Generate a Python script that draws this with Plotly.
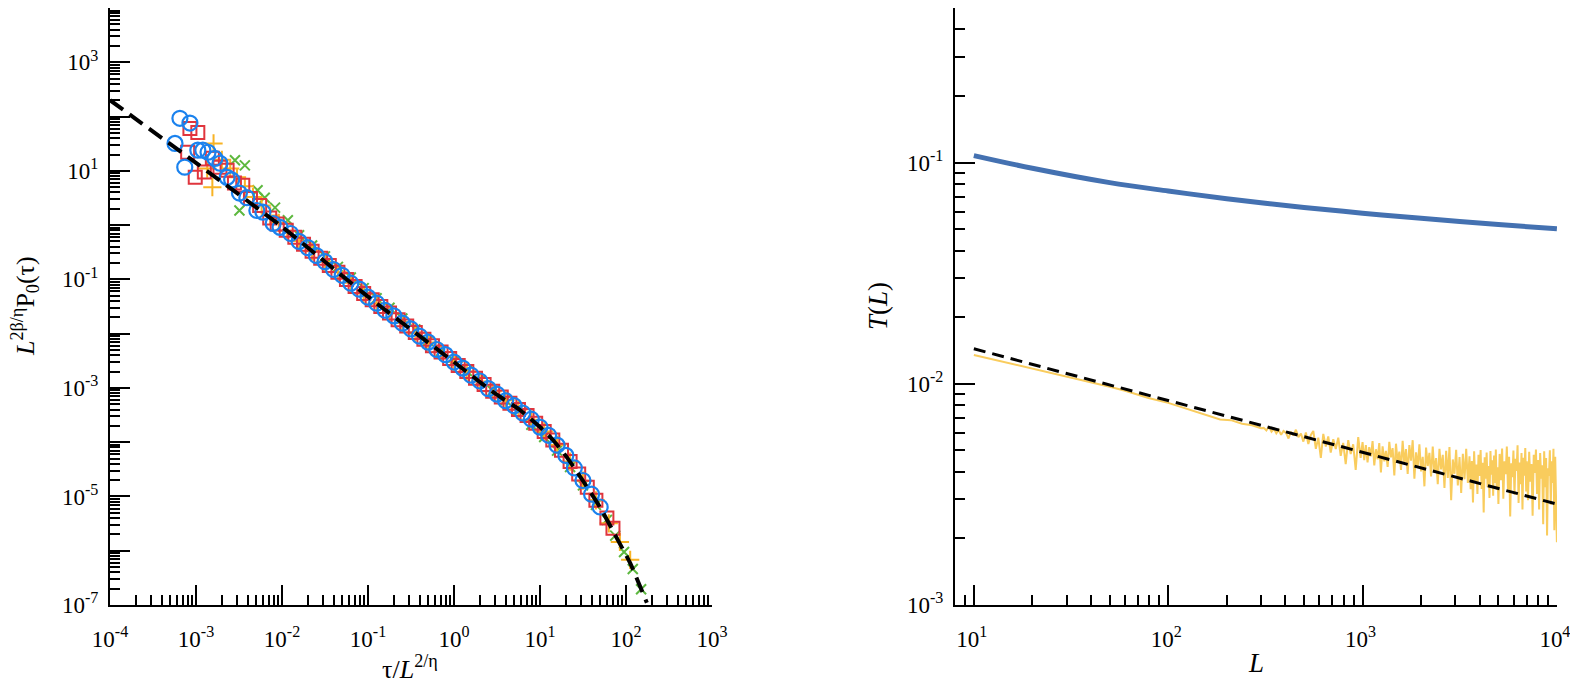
import plotly.graph_objects as go

FONT = "Liberation Serif, Times New Roman, serif"

# ---------------- left panel: scaling collapse ----------------
blue_tau = [5.7e-4, 6.5e-4, 7.4e-4, 8.5e-4, 1.05e-3, 1.2e-3, 1.38e-3, 1.66e-3, 1.9e-3, 2.3e-3,
            2.6e-3, 3.2e-3, 3.9e-3, 5.1e-3, 6.0e-3, 7.9e-3, 9.5e-3,
            0.0126, 0.0158, 0.020, 0.0251, 0.0316, 0.0398, 0.0501, 0.0631, 0.0794, 0.100,
            0.126, 0.158, 0.200, 0.251, 0.316, 0.398, 0.501, 0.631, 0.794, 1.00,
            1.26, 1.58, 2.00, 2.51, 3.16, 3.98, 5.01, 6.31, 7.94, 10.0,
            12.6, 15.8, 20.0, 25.1, 31.6, 39.8, 50.1]
blue_P = [32, 93, 11.7, 76, 24, 24, 22, 17, 13.8, 7.6,
          6.8, 3.9, 3.2, 1.86, 1.74, 1.07, 0.91,
          0.70, 0.50, 0.385, 0.275, 0.212, 0.152, 0.119, 0.085, 0.066, 0.047,
          0.0365, 0.027, 0.0213, 0.0156, 0.0122, 0.0090, 0.0070, 0.0051, 0.0041, 0.0030,
          0.00232, 0.00172, 0.00134, 0.00097, 7.7e-4, 5.8e-4, 4.7e-4, 3.45e-4, 2.65e-4, 1.9e-4,
          1.34e-4, 8.8e-5, 5.7e-5, 3.35e-5, 1.97e-5, 1.10e-5, 6.4e-6]

red_tau = [8.0e-4, 8.5e-4, 9.8e-4, 1.05e-3, 1.25e-3, 1.55e-3, 1.9e-3, 2.3e-3, 2.8e-3, 3.5e-3,
           4.3e-3, 5.5e-3, 7.2e-3, 8.8e-3,
           0.0112, 0.0141, 0.0178, 0.0224, 0.0282, 0.0355, 0.0447, 0.0562, 0.0708, 0.0891,
           0.112, 0.141, 0.178, 0.224, 0.282, 0.355, 0.447, 0.562, 0.708, 0.891,
           1.12, 1.41, 1.78, 2.24, 2.82, 3.55, 4.47, 5.62, 7.08, 8.91,
           11.2, 14.1, 17.8, 22.4, 28.2, 35.5, 44.7, 60.0, 70.6]
red_P = [22, 60, 7.6, 51, 9.5, 17, 11.7, 10.2, 6.0, 5.4,
         3.1, 2.3, 1.35, 1.05,
         0.80, 0.60, 0.445, 0.33, 0.245, 0.18, 0.135, 0.10, 0.074, 0.055,
         0.042, 0.0316, 0.024, 0.018, 0.0138, 0.0105, 0.0079, 0.0060, 0.0046, 0.0035,
         0.0026, 0.0020, 0.00151, 0.00115, 8.7e-4, 6.8e-4, 5.2e-4, 4.0e-4, 3.1e-4, 2.24e-4,
         1.58e-4, 1.10e-4, 7.1e-5, 4.4e-5, 2.6e-5, 1.48e-5, 8.5e-6, 4.0e-6, 2.6e-6]

orange_tau = [1.35e-3, 1.55e-3, 1.6e-3, 2.0e-3, 2.5e-3, 3.0e-3, 3.7e-3, 4.6e-3, 5.8e-3, 7.3e-3, 9.2e-3,
              0.0115, 0.0158, 0.0224, 0.0316, 0.0447, 0.0631, 0.0891, 0.126, 0.178, 0.251,
              0.355, 0.501, 0.708, 1.0, 1.41, 2.0, 2.82, 3.98, 5.62, 7.94,
              11.2, 15.8, 22.4, 31.6, 44.7, 63.1, 85, 112]
orange_P = [11, 5.0, 32, 16, 11, 7.6, 5.2, 3.3, 2.3, 1.5, 1.1,
            0.79, 0.51, 0.33, 0.21, 0.135, 0.087, 0.055, 0.036, 0.024, 0.0158,
            0.0105, 0.0069, 0.0046, 0.0030, 0.0020, 0.00132, 8.7e-4, 5.9e-4, 4.0e-4, 2.6e-4,
            1.58e-4, 8.9e-5, 4.4e-5, 1.95e-5, 8.5e-6, 3.2e-6, 1.45e-6, 6.8e-7]

green_tau = [2.84e-3, 3.2e-3, 3.7e-3, 5.2e-3, 6.3e-3, 8.3e-3, 0.0117, 0.0158, 0.0224, 0.0316,
             0.0447, 0.0631, 0.0891, 0.126, 0.178, 0.251, 0.355, 0.501, 0.708, 1.0,
             1.41, 2.0, 2.82, 3.98, 5.62, 7.94, 11.2, 15.8, 22.4, 31.6,
             44.7, 60, 75, 95, 120, 150]
green_P = [15.7, 1.86, 12.6, 4.4, 3.2, 2.1, 1.23, 0.65, 0.42, 0.265,
           0.17, 0.108, 0.069, 0.045, 0.030, 0.0190, 0.0120, 0.0074, 0.0048, 0.0031,
           0.00205, 0.00134, 8.9e-4, 6.0e-4, 3.9e-4, 2.1e-4, 1.25e-4, 7.0e-5, 3.5e-5, 1.6e-5,
           7.0e-6, 3.7e-6, 1.9e-6, 9.5e-7, 4.6e-7, 1.95e-7]

fit_tau = [1e-4, 1e-3, 1e-2, 1e-1, 1, 3, 6, 10, 14, 20, 30, 50, 80, 112, 175]
fit_P = [200, 14, 0.93, 0.048, 3.0e-3, 7.9e-4, 3.8e-4, 1.9e-4, 1.12e-4, 5.6e-5,
         2.2e-5, 6.3e-6, 1.6e-6, 5.9e-7, 1.1e-7]

# ---------------- right panel: T(L) ----------------
tl_L = [10, 20, 50, 100, 200, 500, 1000, 2000, 5000, 10000]
tl_T = [0.1076, 0.0943, 0.0812, 0.0744, 0.0687, 0.0627, 0.0591, 0.0560, 0.0525, 0.0502]

pow_L = [10, 10000]
pow_T = [0.0144, 0.00286]

yellow_L = [10, 12, 15, 20, 25, 30, 40, 50, 60, 70, 80, 100, 120, 140, 160, 185, 210, 240, 270, 300,
            310, 320, 330, 340, 350, 360, 370, 381, 392, 404, 416, 428, 441, 454, 468, 482, 496, 511, 526, 542,
            558, 575, 592, 610, 628, 647, 666, 686, 707, 728, 750, 772, 795, 819, 844, 869, 895, 922, 950, 978,
            1000, 1020, 1040, 1061, 1082, 1104, 1126, 1149, 1172, 1195, 1219, 1243, 1268, 1294, 1319, 1346,
            1373, 1400, 1428, 1457, 1486, 1516, 1546, 1577, 1608, 1641, 1673, 1707, 1741, 1776, 1811, 1848,
            1885, 1922, 1961, 2000, 2040, 2081, 2122, 2165, 2208, 2252, 2297, 2343, 2390, 2438, 2487, 2536,
            2587, 2639, 2692, 2745, 2800, 2856, 2913, 2972, 3031, 3092, 3154, 3217, 3281, 3347, 3414, 3482,
            3550, 3600, 3650, 3700, 3750, 3800, 3850, 3900, 3950, 4000, 4050, 4100, 4150, 4200, 4250, 4300,
            4350, 4400, 4450, 4500, 4550, 4600, 4650, 4700, 4750, 4800, 4850, 4900, 4950, 5000,
            5075, 5150, 5225, 5300, 5375, 5450, 5525, 5600, 5675, 5750, 5825, 5900, 5975, 6050, 6125, 6200,
            6275, 6350, 6425, 6500, 6575, 6650, 6725, 6800, 6875, 6950,
            7000, 7100, 7200, 7300, 7400, 7500, 7600, 7700, 7800, 7900, 8000, 8100, 8200, 8300, 8400, 8500,
            8600, 8700, 8800, 8900, 9000, 9100, 9200, 9300, 9400, 9500, 9600, 9700, 9800, 9900, 10000]
# values in units of 1e-3
yellow_T = [13.5, 13.0, 12.4, 11.7, 11.2, 10.8, 10.2, 9.7, 9.3, 8.9, 8.6, 8.2, 7.8, 7.5, 7.2, 6.9, 6.85, 6.6, 6.5, 6.3,
            6.32, 6.15, 6.41, 6.08, 6.26, 5.97, 6.19, 5.88, 6.12, 6.00, 5.66, 6.07, 5.85, 6.20, 5.74, 5.96, 5.48, 6.03, 5.34, 5.87,
            6.12, 5.08, 5.71, 4.62, 5.94, 5.21, 5.78, 4.89, 5.62, 5.07, 5.71, 4.72, 5.41, 4.33, 5.56, 4.81, 5.33, 4.08, 5.74, 4.63,
            5.45, 4.52, 5.28, 4.41, 5.17, 4.70, 5.51, 4.28, 5.06, 4.55, 5.39, 3.97, 5.22, 4.46, 4.98, 4.21,
            5.47, 4.65, 5.12, 3.85, 5.36, 4.40, 4.94, 4.08, 5.53, 4.32, 5.07, 3.91, 5.28, 4.49, 5.56, 3.72,
            4.90, 4.18, 5.33, 4.02, 4.68, 3.44, 5.15, 4.25, 4.87, 3.81, 5.21, 3.96, 4.62, 3.52, 5.08, 4.10,
            4.77, 3.38, 4.98, 3.75, 5.18, 2.98, 4.55, 3.92, 5.03, 3.47, 4.66, 3.21, 4.82, 3.70, 5.09, 3.56,
            4.70, 3.34, 4.48, 2.91, 4.95, 3.62, 4.31, 3.18, 4.78, 3.83, 5.02, 3.35, 4.40, 2.62, 4.66, 3.72,
            4.89, 3.41, 4.25, 3.05, 4.97, 3.88, 4.51, 3.12, 4.74, 3.56, 5.05, 3.31, 4.19, 2.86,
            4.82, 3.67, 5.10, 3.02, 4.46, 3.90, 5.21, 3.33, 4.68, 2.51, 4.37, 3.78, 4.99, 3.15, 4.58, 4.04,
            5.27, 2.89, 4.41, 3.52, 4.86, 2.70, 4.63, 3.84, 5.12, 3.26,
            4.47, 2.98, 4.93, 3.61, 4.34, 2.53, 4.78, 3.95, 5.05, 3.18, 4.52, 2.70, 4.87, 3.72, 4.28, 2.32,
            4.96, 3.41, 4.62, 2.06, 4.15, 3.83, 5.01, 2.84, 4.47, 3.56, 5.09, 2.18, 4.68, 3.25, 1.92]

fig = go.Figure()

fig.add_trace(go.Scatter(x=green_tau, y=green_P, mode="markers", xaxis="x", yaxis="y",
                         marker=dict(symbol="x-thin-open", size=10, color="#5db83f",
                                     line=dict(color="#5db83f", width=2))))
fig.add_trace(go.Scatter(x=orange_tau, y=orange_P, mode="markers", xaxis="x", yaxis="y",
                         marker=dict(symbol="cross-thin-open", size=13, color="#f8b324",
                                     line=dict(color="#f8b324", width=2))))
fig.add_trace(go.Scatter(x=red_tau, y=red_P, mode="markers", xaxis="x", yaxis="y",
                         marker=dict(symbol="square-open", size=13, color="#e0353d", line=dict(width=2))))
fig.add_trace(go.Scatter(x=blue_tau, y=blue_P, mode="markers", xaxis="x", yaxis="y",
                         marker=dict(symbol="circle-open", size=15, color="#1a82ee", line=dict(width=2.2))))
fig.add_trace(go.Scatter(x=fit_tau, y=fit_P, mode="lines", xaxis="x", yaxis="y",
                         line=dict(color="black", width=4, dash="16px,8px", shape="spline", smoothing=0.6)))

fig.add_trace(go.Scatter(x=tl_L, y=tl_T, mode="lines", xaxis="x2", yaxis="y2",
                         line=dict(color="#4471b1", width=5, shape="spline")))
fig.add_trace(go.Scatter(x=yellow_L, y=[v * 1e-3 for v in yellow_T], mode="lines", xaxis="x2", yaxis="y2",
                         line=dict(color="#f9cc5d", width=2)))
fig.add_trace(go.Scatter(x=pow_L, y=pow_T, mode="lines", xaxis="x2", yaxis="y2",
                         line=dict(color="black", width=3, dash="12px,7px")))


def lab(k):
    return f"10<sup>{k}</sup>"


def minors(k0, k1):
    return [m * 10.0 ** k for k in range(k0, k1) for m in range(2, 10)]


axis_common = dict(type="log", showline=True, linecolor="black", linewidth=2,
                   ticks="inside", ticklen=20, tickwidth=2, tickcolor="black",
                   showgrid=False, zeroline=False, automargin=False, mirror=False,
                   ticklabeloverflow="allow",
                   tickfont=dict(family=FONT, size=23, color="black"))
minor_common = dict(ticks="inside", ticklen=10, tickwidth=1.5, tickcolor="black", showgrid=False)

# the page body adds an 8 px margin, so the figure sits 8 px right and down
OFF = 8
W, H = 1570, 677
PLOT_BOTTOM = 605


def xdom(a, b):
    return [(a - OFF) / W, (b - OFF) / W]


ydom = [(H - (PLOT_BOTTOM - OFF)) / H, 1.0]

fig.update_layout(
    width=W, height=H, margin=dict(l=0, r=0, t=0, b=0),
    paper_bgcolor="white", plot_bgcolor="white", showlegend=False,
    font=dict(family=FONT, size=23, color="black"),
    xaxis=dict(axis_common, domain=xdom(110, 712), range=[-4, 3.0005], anchor="y", ticklabelstandoff=12,
               tickvals=[10.0 ** k for k in range(-4, 4)], ticktext=[lab(k) for k in range(-4, 4)],
               minor=dict(minor_common, tickvals=minors(-4, 3))),
    yaxis=dict(axis_common, domain=ydom, range=[-7, 4.0005], anchor="x", ticklabelstandoff=5,
               tickvals=[10.0 ** k for k in range(-7, 5)],
               ticktext=[lab(k) if k % 2 else "" for k in range(-7, 5)],
               minor=dict(minor_common, tickvals=minors(-7, 4))),
    xaxis2=dict(axis_common, domain=xdom(955, 1557), range=[0.903, 4.0005], anchor="y2", ticklabelstandoff=12,
                ticklabelshift=-2,
                tickvals=[10, 100, 1000, 10000], ticktext=[lab(k) for k in range(1, 5)],
                minor=dict(minor_common, tickvals=[8, 9] + minors(1, 4))),
    yaxis2=dict(axis_common, domain=ydom, range=[-3, -0.301], anchor="x2", ticklabelstandoff=5,
                tickvals=[1e-3, 1e-2, 1e-1], ticktext=[lab(k) for k in (-3, -2, -1)],
                minor=dict(minor_common, tickvals=minors(-3, -1) + [0.2, 0.3, 0.4, 0.5])),
)

# axis titles (page pixel positions)
titles = [
    ("τ/<i>L</i><sup>2/η</sup>", 410, 667, 0, 26),
    ("<i>L</i>", 1256, 663, 0, 27),
    ("<i>L</i><sup>2β/η</sup>P<sub>0</sub>(τ)", 25, 306, -90, 26),
    ("<i>T</i>(<i>L</i>)", 878, 306, -90, 27),
]
for text, px, py, ang, fs in titles:
    fig.add_annotation(text=text, x=(px - OFF) / W, y=1 - (py - OFF) / H, xref="paper", yref="paper",
                       showarrow=False, textangle=ang, xanchor="center", yanchor="middle",
                       font=dict(family=FONT, size=fs, color="black"))

fig.write_html("out.html")
